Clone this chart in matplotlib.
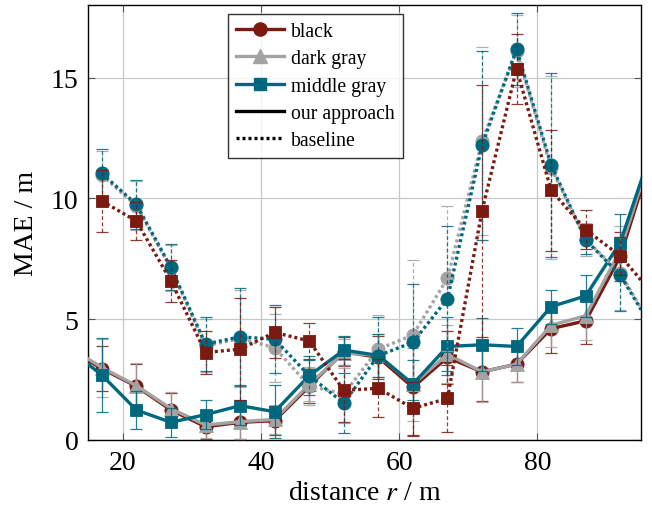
import matplotlib
matplotlib.use("Agg")
import matplotlib.pyplot as plt
from matplotlib.lines import Line2D

plt.rcParams['font.family'] = ['Liberation Serif', 'DejaVu Serif']
plt.rcParams['mathtext.fontset'] = 'stix'

# ---- data ----
x_app = [12, 17, 22, 27, 32, 37, 42, 47, 52, 57, 62, 67, 72, 77, 82, 87, 92, 97]
x_base = [17, 22, 27, 32, 37, 42, 47, 52, 57, 62, 67, 72, 77, 82, 87, 92, 97]

black_app = [3.8, 2.95, 2.22, 1.24, 0.55, 0.73, 0.8, 2.22, 3.65, 3.42, 2.18, 3.42, 2.82, 3.14, 4.61, 4.93, 7.6, 12.15]
dgray_app = [3.9, 3.0, 2.25, 1.3, 0.62, 0.76, 0.85, 2.3, 3.6, 3.5, 2.3, 3.55, 2.82, 3.14, 4.75, 5.14, 7.85, 12.3]
mgray_app = [3.8, 2.69, 1.24, 0.73, 1.05, 1.42, 1.17, 2.66, 3.72, 3.5, 2.31, 3.87, 3.94, 3.87, 5.52, 5.96, 8.17, 12.4]

black_app_err = [0.9, 0.93, 0.93, 0.7, 0.5, 0.7, 0.6, 0.7, 0.6, 0.9, 2.0, 1.1, 1.2, 0.75, 1.0, 0.96, 1.0, 1.0]
dgray_app_err = [0.9, 1.2, 0.93, 0.7, 0.55, 0.7, 0.6, 0.7, 0.6, 0.9, 1.5, 1.2, 1.25, 0.75, 0.9, 1.0, 1.0, 1.0]
mgray_app_err = [1.0, 1.55, 0.8, 0.6, 0.6, 0.8, 1.1, 0.65, 0.6, 0.9, 1.0, 1.2, 1.1, 0.75, 0.7, 0.86, 1.2, 1.2]

black_base = [9.89, 9.06, 6.58, 3.62, 3.76, 4.45, 4.10, 2.05, 2.14, 1.31, 1.72, 9.48, 15.36, 10.33, 8.70, 7.62, 5.95]
dgray_base = [10.95, 9.7, 7.1, 3.9, 4.2, 3.82, 2.24, 1.9, 3.76, 4.34, 6.69, 12.37, 16.1, 11.27, 8.3, 6.9, 4.5]
mgray_base = [11.03, 9.75, 7.14, 3.97, 4.27, 4.17, 2.66, 1.53, 3.49, 4.04, 5.85, 12.19, 16.18, 11.38, 8.28, 6.82, 4.45]

black_base_err = [1.3, 0.8, 0.85, 0.9, 2.1, 1.05, 0.75, 1.3, 1.2, 1.1, 1.37, 5.2, 1.45, 2.5, 0.8, 0.8, 0.8]
dgray_base_err = [1.0, 1.0, 0.95, 1.1, 2.0, 1.4, 0.8, 1.2, 1.4, 3.1, 3.0, 3.9, 1.5, 3.8, 0.7, 1.5, 1.0]
mgray_base_err = [1.0, 1.0, 0.95, 1.1, 2.0, 1.4, 0.8, 1.25, 1.6, 2.4, 3.0, 3.9, 1.5, 3.8, 0.6, 1.5, 1.0]

x_ticks = [20, 40, 60, 80]
y_ticks = [0, 5, 10, 15]

C_BLACK = '#7a1a10'
C_DGRAY = '#a3a3a3'
C_MGRAY = '#00687e'

fig = plt.figure(figsize=(6.52, 5.10), dpi=100)
ax = fig.add_axes([88/652, 69/510, 553/652, 435/510])

def draw(x, y, err, color, marker, ms, ls, z):
    if ls == 'solid':
        lstyle = '-'
        ebls = '-'
    else:
        lstyle = (0, (0.9, 0.9))
        ebls = (0, (3, 2))
    eb = ax.errorbar(x, y, yerr=err, color=color, ecolor=color, elinewidth=0.9,
                     capsize=4, capthick=0.9, linestyle='none', zorder=z)
    for c in eb[2]:
        c.set_linestyle(ebls)
        c.set_alpha(0.85)
    for c in eb[1]:
        c.set_alpha(0.85)
    ax.plot(x, y, color=color, linestyle=lstyle, linewidth=2.4, marker=marker,
            markersize=ms, markeredgewidth=0.6, markeredgecolor=color,
            dash_capstyle='butt', zorder=z + 0.5, clip_on=True)

draw(x_app, black_app, black_app_err, C_BLACK, 'o', 9.5, 'solid', 3)
draw(x_app, dgray_app, dgray_app_err, C_DGRAY, '^', 9.5, 'solid', 4)
draw(x_app, mgray_app, mgray_app_err, C_MGRAY, 's', 9, 'solid', 5)
draw(x_base, dgray_base, dgray_base_err, C_DGRAY, 'o', 9.5, 'dotted', 6)
draw(x_base, mgray_base, mgray_base_err, C_MGRAY, 'o', 9.5, 'dotted', 7)
draw(x_base, black_base, black_base_err, C_BLACK, 's', 9, 'dotted', 8)

ax.set_xlim(15, 95)
ax.set_ylim(0, 18)
ax.set_xticks(x_ticks)
ax.set_yticks(y_ticks)
ax.set_xticklabels([str(t) for t in x_ticks])
ax.set_yticklabels([str(t) for t in y_ticks])
ax.tick_params(direction='in', top=True, right=True, length=5, width=0.8,
               color='#555555', labelsize=20, pad=7)
ax.grid(True, color='#c8c8c8', linewidth=0.9, zorder=0)
ax.set_axisbelow(True)
for s in ax.spines.values():
    s.set_linewidth(1.0)
    s.set_color('black')

ax.set_xlabel('distance $r$ / m', fontsize=20, labelpad=4)
ax.set_ylabel('MAE / m', fontsize=20, labelpad=8)

handles = [
    Line2D([], [], color=C_BLACK, marker='o', markersize=9.5, linewidth=2.4),
    Line2D([], [], color=C_DGRAY, marker='^', markersize=9.5, linewidth=2.4),
    Line2D([], [], color=C_MGRAY, marker='s', markersize=9, linewidth=2.4),
    Line2D([], [], color='black', linewidth=2.4),
    Line2D([], [], color='black', linewidth=2.4, linestyle=(0, (0.9, 0.9)), dash_capstyle='butt'),
]
labels = ['black', 'dark gray', 'middle gray', 'our approach', 'baseline']
leg = ax.legend(handles, labels, loc='upper left', bbox_to_anchor=(0.253, 0.979),
                borderaxespad=0, fontsize=14.2, frameon=True, fancybox=False,
                edgecolor='black', handlelength=2.45, labelspacing=0.42,
                borderpad=0.4, handletextpad=0.35)
leg.get_frame().set_linewidth(1.0)
leg.set_zorder(20)

fig.savefig('out.png', dpi=100)
